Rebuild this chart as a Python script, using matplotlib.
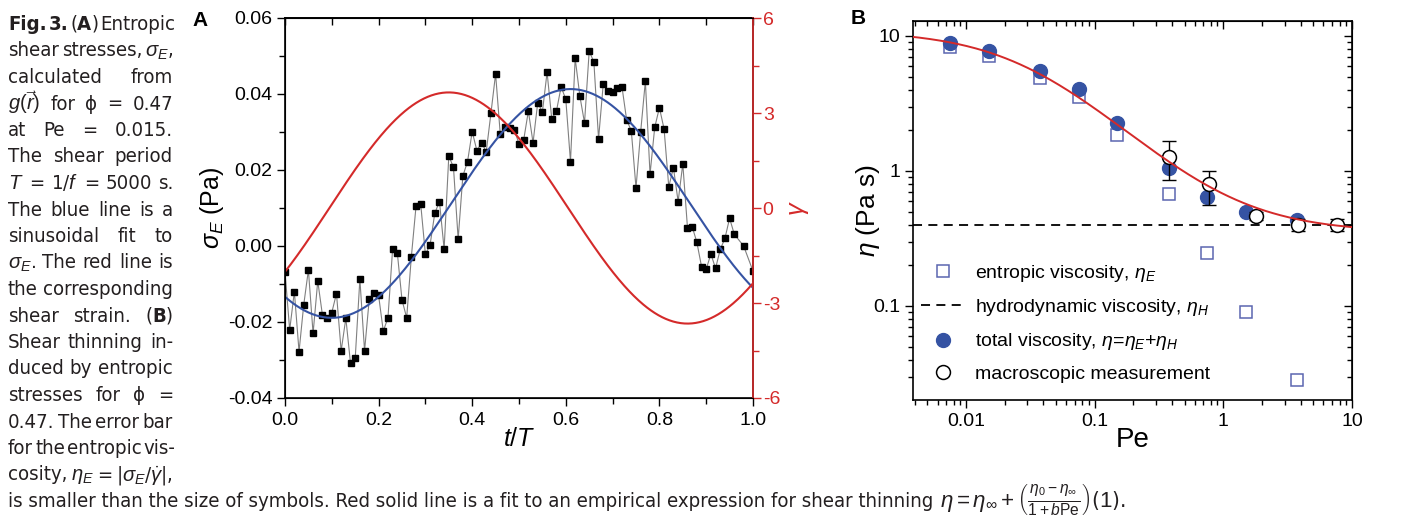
import re
import numpy as np
import matplotlib
matplotlib.use('Agg')
import matplotlib.pyplot as plt
from matplotlib import font_manager
from matplotlib.ticker import MultipleLocator, FormatStrFormatter, FuncFormatter, NullFormatter, LogLocator

plt.rcParams['font.family'] = ['Liberation Sans', 'DejaVu Sans']
plt.rcParams['axes.unicode_minus'] = False
plt.rcParams['mathtext.fontset'] = 'custom'
plt.rcParams['mathtext.rm'] = 'Liberation Sans'
plt.rcParams['mathtext.it'] = 'Liberation Sans:italic'
plt.rcParams['mathtext.bf'] = 'Liberation Sans:bold'

W, H = 1401, 521
RED = '#d42a2a'
BLUE = '#3553a3'
SQ = '#5b66b0'

# ---- panel A: entropic stress over one shear period ----
sample_idx = list(range(97)) + [98, 100]
sigma_E = [-0.0068, -0.0221, -0.0120, -0.0278, -0.0155, -0.0063, -0.0230, -0.0092, -0.0182, -0.0190,
           -0.0175, -0.0125, -0.0276, -0.0190, -0.0309, -0.0296, -0.0087, -0.0276, -0.0140, -0.0123,
           -0.0130, -0.0224, -0.0189, -0.0007, -0.0018, -0.0142, -0.0189, -0.0028, 0.0105, 0.0110,
           -0.0022, 0.0003, 0.0086, 0.0117, -0.0008, 0.0237, 0.0207, 0.0018, 0.0184, 0.0222,
           0.0301, 0.0251, 0.0272, 0.0248, 0.0349, 0.0453, 0.0294, 0.0314, 0.0310, 0.0306,
           0.0269, 0.0279, 0.0355, 0.0272, 0.0377, 0.0353, 0.0457, 0.0335, 0.0355, 0.0419,
           0.0386, 0.0222, 0.0494, 0.0395, 0.0324, 0.0513, 0.0484, 0.0282, 0.0426, 0.0407,
           0.0406, 0.0417, 0.0419, 0.0332, 0.0303, 0.0153, 0.0301, 0.0434, 0.0189, 0.0312,
           0.0364, 0.0308, 0.0156, 0.0206, 0.0117, 0.0216, 0.0048, 0.0051, 0.0010, -0.0054,
           -0.0061, -0.0021, -0.0059, -0.0009, 0.0020, 0.0073, 0.0031, 0.0000, -0.0066]
t_A = np.array(sample_idx) / 100.0

# sinusoidal fit to sigma_E and applied strain
SIG_OFF, SIG_AMP, SIG_F, SIG_T0 = 0.0112, 0.0301, 0.98, 0.10
GAM_AMP, GAM_F, GAM_PH = 3.65, 0.98, -0.584

# ---- panel B: viscosity vs Peclet number ----
Pe_sim = [0.0075, 0.015, 0.0375, 0.075, 0.15, 0.375, 0.75, 1.5, 3.75]
eta_E = [8.3, 7.1, 4.9, 3.5, 1.85, 0.675, 0.247, 0.090, 0.0283]
eta_tot = [8.9, 7.7, 5.5, 4.05, 2.27, 1.05, 0.645, 0.50, 0.435]
Pe_mac = [0.38, 0.77, 1.8, 3.8, 7.7]
eta_mac = [1.27, 0.80, 0.465, 0.40, 0.40]
mac_err_lo = [0.41, 0.24, 0.03, 0.04, 0.04]
mac_err_hi = [0.40, 0.20, 0.03, 0.04, 0.04]
ETA_H = 0.4
ETA_0, ETA_INF, B_FIT = 11.0, 0.35, 31.7

# caption font: a narrow face if one is installed
faces = font_manager.fontManager.ttflist
CAP_STRETCH = 'normal'
if any(f.name == 'Liberation Sans Narrow' for f in faces):
    CAP_NAME = 'Liberation Sans Narrow'
else:
    cond = [f for f in faces if 'condensed' in str(f.stretch) and f.name in
            ('DejaVu Sans', 'Noto Sans', 'Open Sans', 'Roboto', 'Lato', 'Inter')]
    if cond:
        CAP_NAME, CAP_STRETCH = cond[0].name, cond[0].stretch
    else:
        CAP_NAME = 'Roboto'
CAP_FONT = [CAP_NAME, 'DejaVu Sans']

fig = plt.figure(figsize=(W / 100, H / 100), dpi=100)
renderer = fig.canvas.get_renderer()


def px_axes(x0, y0, x1, y1):
    return fig.add_axes([x0 / W, 1 - y1 / H, (x1 - x0) / W, (y1 - y0) / H])


# panel A
axA = px_axes(285, 18, 753, 398)
tt = np.linspace(0, 1, 500)
axA.plot(t_A, sigma_E, '-', color='#808080', lw=0.8, zorder=2)
axA.plot(t_A, sigma_E, 's', color='black', ms=5, zorder=3)
axA.plot(tt, SIG_OFF - SIG_AMP * np.cos(2 * np.pi * SIG_F * (tt - SIG_T0)), color=BLUE, lw=1.5, zorder=4)
axA.set_xlim(0, 1)
axA.set_ylim(-0.04, 0.06)
axA.xaxis.set_major_locator(MultipleLocator(0.2))
axA.xaxis.set_minor_locator(MultipleLocator(0.1))
axA.xaxis.set_major_formatter(FormatStrFormatter('%.1f'))
axA.yaxis.set_major_locator(MultipleLocator(0.02))
axA.yaxis.set_minor_locator(MultipleLocator(0.01))
axA.yaxis.set_major_formatter(FormatStrFormatter('%.2f'))
axA.tick_params(which='both', direction='out', top=False, right=False, labelsize=14, width=1)
axA.tick_params(which='major', length=6)
axA.tick_params(which='minor', length=4)
axA.tick_params(axis='y', pad=3)
axA.tick_params(axis='x', pad=4)
for s in axA.spines.values():
    s.set_linewidth(1.2)
axA.set_xlabel('$t/T$', fontsize=18)
axA.set_ylabel(r'$\sigma_E$ (Pa)', fontsize=18)
axA.xaxis.set_label_coords(0.5, -0.075)
axA.yaxis.set_label_coords(-0.125, 0.5)
topA = axA.secondary_xaxis('top')
topA.xaxis.set_major_locator(MultipleLocator(0.1))
topA.tick_params(direction='in', length=5, width=1, labeltop=False)
topA.spines['top'].set_linewidth(1.2)

axR = axA.twinx()
axR.plot(tt, GAM_AMP * np.sin(2 * np.pi * GAM_F * tt + GAM_PH), color=RED, lw=1.5)
axR.set_ylim(-6, 6)
axR.yaxis.set_major_locator(MultipleLocator(3))
axR.yaxis.set_minor_locator(MultipleLocator(1.5))
axR.tick_params(which='both', direction='out', colors=RED, labelsize=14, width=1, pad=1)
axR.tick_params(which='major', length=6)
axR.tick_params(which='minor', length=4)
axR.spines['right'].set_color(RED)
axR.spines['right'].set_linewidth(1.2)
axR.set_ylabel(r'$\gamma$', color=RED, fontsize=18, rotation=90)
axR.yaxis.set_label_coords(1.072, 0.5)

# panel B
axB = px_axes(913, 21, 1352, 400)
axB.set_xscale('log')
axB.set_yscale('log')
hE, = axB.plot(Pe_sim, eta_E, 's', ms=8, mfc='white', mec=SQ, mew=1.1, zorder=3,
               label=r'entropic viscosity, $\eta_E$')
hH = axB.axhline(ETA_H, ls=(0, (5, 3.5)), color='black', lw=1.3, zorder=2,
                 label=r'hydrodynamic viscosity, $\eta_H$')
hT, = axB.plot(Pe_sim, eta_tot, 'o', ms=10, color=BLUE, zorder=4,
               label=r'total viscosity, $\eta$=$\eta_E$+$\eta_H$')
axB.errorbar(Pe_mac, eta_mac, yerr=[mac_err_lo, mac_err_hi], fmt='none', ecolor='black',
             elinewidth=1, capsize=5, capthick=1, zorder=5)
hM, = axB.plot(Pe_mac, eta_mac, 'o', ms=10, mfc='white', mec='black', mew=1.1, zorder=5,
               label='macroscopic measurement')
pe_fine = np.logspace(np.log10(0.0035), 1, 300)
axB.plot(pe_fine, ETA_INF + (ETA_0 - ETA_INF) / (1 + B_FIT * pe_fine), color=RED, lw=1.4, zorder=6)
axB.set_xlim(0.00387, 10)
axB.set_ylim(0.0201, 12.9)
fmt = FuncFormatter(lambda v, p: '%g' % v)
for ax_ in (axB.xaxis, axB.yaxis):
    ax_.set_major_locator(LogLocator(base=10))
    ax_.set_minor_locator(LogLocator(base=10, subs=np.arange(2, 10)))
    ax_.set_major_formatter(fmt)
    ax_.set_minor_formatter(NullFormatter())
axB.tick_params(which='both', direction='out', top=False, right=False, labelsize=14, width=1, pad=3)
axB.tick_params(which='major', length=6)
axB.tick_params(which='minor', length=3.5)
for s in axB.spines.values():
    s.set_linewidth(1.2)
topB = axB.secondary_xaxis('top')
topB.tick_params(which='both', direction='in', width=1, labeltop=False)
topB.tick_params(which='major', length=6)
topB.tick_params(which='minor', length=3.5)
rightB = axB.secondary_yaxis('right')
rightB.tick_params(which='both', direction='in', width=1, labelright=False)
rightB.tick_params(which='major', length=6)
rightB.tick_params(which='minor', length=3.5)
axB.set_xlabel('Pe', fontsize=20)
axB.set_ylabel(r'$\eta$ (Pa s)', fontsize=19)
axB.xaxis.set_label_coords(0.5, -0.07)
axB.yaxis.set_label_coords(-0.07, 0.5)
axB.legend(handles=[hE, hH, hT, hM], loc='upper left', bbox_to_anchor=(0.0, 0.382),
           frameon=False, fontsize=14, handlelength=2.3, handletextpad=0.5,
           labelspacing=0.68, borderaxespad=0)

fig.text(200 / W, 1 - 20 / H, 'A', fontsize=15, weight='bold', ha='center', va='center')
fig.text(858 / W, 1 - 18 / H, 'B', fontsize=15, weight='bold', ha='center', va='center')

# ---- caption ----
caption_lines = [
    '**Fig.** **3.** (**A**) Entropic',
    r'shear stresses, $\sigma_E$,',
    'calculated from',
    r'$g(\vec{r})$ for ϕ = 0.47',
    'at Pe = 0.015.',
    'The shear period',
    r'$T$ = 1/$f$ = 5000 s.',
    'The blue line is a',
    'sinusoidal fit to',
    r'$\sigma_E$. The red line is',
    'the corresponding',
    'shear strain. (**B**)',
    'Shear thinning in-',
    'duced by entropic',
    'stresses for ϕ =',
    '0.47. The error bar',
    'for the entropic vis-',
    r'cosity, $\eta_E$ = |$\sigma_E$/$\dot{\gamma}$|,',
]
caption_head = 'is smaller than the size of symbols. Red solid line is a fit to an empirical expression for shear thinning'
caption_tail = (r'$\eta = \eta_\infty + \left(\frac{\eta_0 - \eta_\infty}{1 + b\mathrm{Pe}}\right)$'
                r'($\mathit{1}$).')

# size the caption so its long last line spans about the same width as in the figure
probe = fig.text(0, 0, caption_head, fontsize=10, family=CAP_FONT, fontstretch=CAP_STRETCH)
CAP_SIZE = min(16.0, 10 * 930 / probe.get_window_extent(renderer).width)
probe.remove()


def cap_text(s, size=None, **kw):
    return fig.text(0, 0, s, fontsize=size or CAP_SIZE, family=CAP_FONT, fontstretch=CAP_STRETCH,
                    va='baseline', color='#231f20', **kw)


def caption_line(text, y, x0=8, x1=173):
    words = re.findall(r'(?:\$[^$]*\$|[^\s$])+', text)
    groups = []
    for w in words:
        segs = []
        for k, part in enumerate(w.split('**')):
            if part:
                segs.append(cap_text(part, weight='bold' if k % 2 else 'normal'))
        groups.append(segs)
    widths = [[s.get_window_extent(renderer).width for s in g] for g in groups]
    total = sum(sum(w) for w in widths)
    gap = max((x1 - x0 - total) / max(len(groups) - 1, 1), 2)
    x = x0
    for g, w in zip(groups, widths):
        for s, wi in zip(g, w):
            s.set_position((x / W, 1 - y / H))
            x += wi
        x += gap


for i, line in enumerate(caption_lines):
    caption_line(line, 30 + 26.5 * i)
y_last = 1 - (30 + 26.5 * 18) / H
head = cap_text(caption_head)
head.set_position((8 / W, y_last))
head_end = 8 + head.get_window_extent(renderer).width
tail = cap_text(caption_tail, size=CAP_SIZE * 1.1)
tail.set_position(((head_end + 7) / W, y_last))

fig.savefig('out.png', dpi=100)
